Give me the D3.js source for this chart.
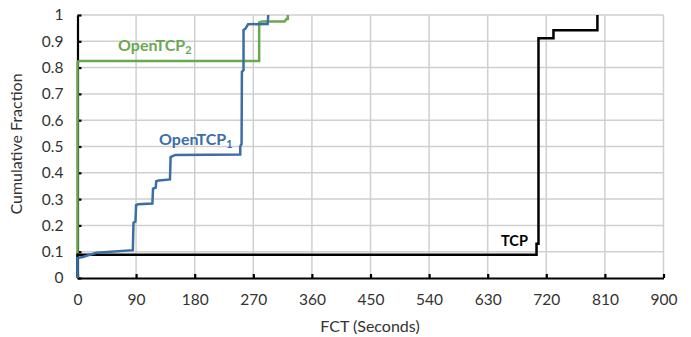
<!DOCTYPE html>
<html><head><meta charset="utf-8">
<script src="https://cdn.jsdelivr.net/npm/d3@7"></script>
<style>body{margin:0;background:#fff;} svg{display:block;}</style>
</head><body>
<svg id="chart" width="691" height="337"></svg>
<script>
const xTicks = [0, 90, 180, 270, 360, 450, 540, 630, 720, 810, 900];
const yTicks = [0, 0.1, 0.2, 0.3, 0.4, 0.5, 0.6, 0.7, 0.8, 0.9, 1];
const yTickLabels = ["0","0.1","0.2","0.3","0.4","0.5","0.6","0.7","0.8","0.9","1"];
const seriesNames = ["TCP", "OpenTCP2", "OpenTCP1"];
// vertices of each CDF step line: [FCT seconds, cumulative fraction]
const tcpPoints = [[0,0],[0,0.088],[705,0.088],[705,0.13],[708,0.13],[708,0.912],[731,0.912],[731,0.942],[798.5,0.942],[798.5,1.0]];
const openTcp2Points = [[0,0],[0,0.822],[3,0.825],[279,0.825],[279,0.972],[284,0.975],[318,0.975],[321,0.985],[323,0.985],[323,1.0]];
const openTcp1Points = [[0,0],[0,0.076],[8,0.08],[29,0.096],[85,0.106],[86,0.21],[89,0.215],[90,0.277],[93,0.28],[115,0.283],[116,0.34],[120,0.343],[121,0.368],[125,0.371],[142,0.375],[143,0.46],[150,0.468],[250,0.47],[250,0.5],[252,0.51],[252.5,0.784],[255,0.79],[255,0.943],[258,0.948],[262,0.965],[292,0.966],[293,1.0]];

(function () {
const svg = d3.select("#chart");
const mLeft = 77.5, mRight = 663.5, mTop = 15, mBottom = 278;
const x = d3.scaleLinear().domain([0, 900]).range([mLeft, mRight]);
const y = d3.scaleLinear().domain([0, 1]).range([mBottom, mTop]);
const font = "Lato, 'Open Sans', sans-serif";

// gridlines
svg.append("g").selectAll("line").data(xTicks.slice(1)).join("line")
  .attr("x1", d => x(d)).attr("x2", d => x(d)).attr("y1", y(0)).attr("y2", y(1))
  .attr("stroke", "#cfcfcf").attr("stroke-width", 1.5);
svg.append("g").selectAll("line").data(yTicks.slice(1)).join("line")
  .attr("x1", x(0)).attr("x2", x(900)).attr("y1", d => y(d)).attr("y2", d => y(d))
  .attr("stroke", "#cfcfcf").attr("stroke-width", 1.5);

// axes
const xAxis = d3.axisBottom(x).tickValues(xTicks).tickSize(-4).tickPadding(16).tickSizeOuter(0);
const gx = svg.append("g").attr("transform", `translate(0,${y(0)})`).call(xAxis);
gx.select(".domain").attr("stroke", "#000").attr("stroke-width", 2.2);
gx.selectAll(".tick line").attr("stroke", "#000").attr("stroke-width", 2.2);
gx.selectAll(".tick text").attr("font-family", font).attr("font-size", 15.5).attr("fill", "#333");

const yAxis = d3.axisLeft(y).tickValues(yTicks).tickFormat((d, i) => yTickLabels[i]).tickSize(-4).tickPadding(14).tickSizeOuter(0);
const gy = svg.append("g").attr("transform", `translate(${x(0)},0)`).call(yAxis);
gy.select(".domain").attr("stroke", "#000").attr("stroke-width", 2.2);
gy.selectAll(".tick line").attr("stroke", "#000").attr("stroke-width", 2.2);
gy.selectAll(".tick text").attr("font-family", font).attr("font-size", 15.5).attr("fill", "#333");

// axis titles
svg.append("text").attr("x", 370).attr("y", 332).attr("text-anchor", "middle")
  .attr("font-family", font).attr("font-size", 16).attr("fill", "#333").text("FCT (Seconds)");
svg.append("text").attr("transform", "translate(22,144) rotate(-90)").attr("text-anchor", "middle")
  .attr("font-family", font).attr("font-size", 16).attr("fill", "#333").text("Cumulative Fraction");

// lines
const line = d3.line().x(d => x(d[0])).y(d => y(d[1]));
const series = [
  {name: seriesNames[1], pts: openTcp2Points, color: "#6aa84f"},
  {name: seriesNames[0], pts: tcpPoints, color: "#000000"},
  {name: seriesNames[2], pts: openTcp1Points, color: "#3b6ea5"}
];
svg.append("g").selectAll("path").data(series).join("path")
  .attr("d", d => line(d.pts)).attr("fill", "none")
  .attr("stroke", d => d.color).attr("stroke-width", 2.5).attr("stroke-linejoin", "miter");

// labels
function label(xp, yp, main, sub, color, size) {
  const t = svg.append("text").attr("x", xp).attr("y", yp)
    .attr("font-family", font).attr("font-weight", "bold").attr("font-size", size).attr("fill", color);
  t.append("tspan").text(main);
  if (sub) t.append("tspan").attr("font-size", size * 0.68).attr("dy", 3).text(sub);
}
label(118, 51, "OpenTCP", "2", "#6aa84f", 16);
label(159, 145, "OpenTCP", "1", "#3b6ea5", 16);
label(501, 246, "TCP", null, "#000", 14.5);
})();
</script>
</body></html>
